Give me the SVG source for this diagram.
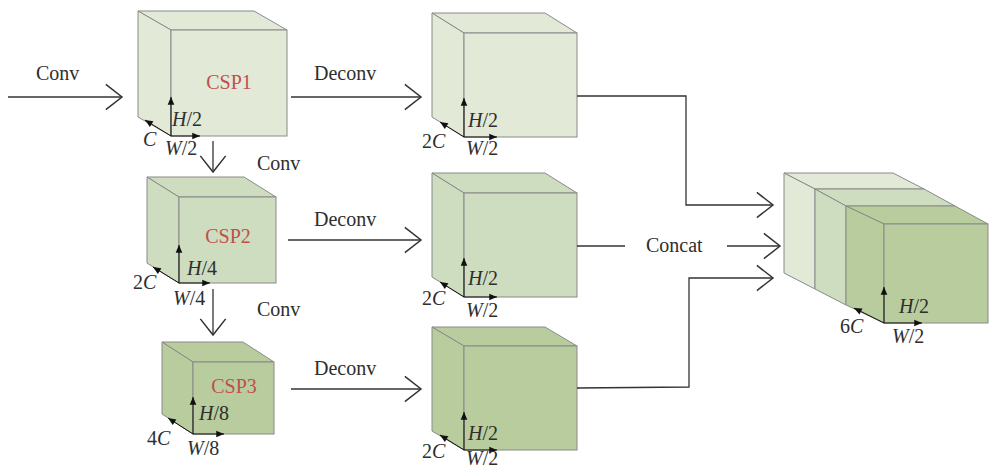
<svg xmlns="http://www.w3.org/2000/svg" width="989" height="469" viewBox="0 0 989 469">
<defs>
<marker id="open" markerUnits="userSpaceOnUse" markerWidth="30" markerHeight="30" refX="0" refY="0" viewBox="-16 -13 18 26" orient="auto" overflow="visible">
<path d="M-14,-11 L0,0 L-14,11" fill="none" stroke="#333" stroke-width="1.3"/>
</marker>
<marker id="tri" markerUnits="userSpaceOnUse" markerWidth="10" markerHeight="10" viewBox="-8 -4 9 8" refX="0" refY="0" orient="auto" overflow="visible">
<path d="M-7,-3 L0,0 L-7,3 Z" fill="#111"/>
</marker>
</defs>
<style>
.l1{fill:#e2e9d7}
.l2{fill:#cedcbf}
.l3{fill:#b8cc9e}
.cube polygon,.cube rect{stroke:#8a8a8a;stroke-width:1}
.t{font-family:"Liberation Serif","Times New Roman",serif;font-size:20px;fill:#2e2e2e}
.red{fill:#c0504d}
.i{font-style:italic}
.conn{fill:none;stroke:#333;stroke-width:1.3}
.ax{stroke:#111;stroke-width:1;fill:none;marker-end:url(#tri)}
</style>
<rect width="989" height="469" fill="#fff"/>

<g id="csp1" class="cube l1">
<polygon points="138,11 254,11 287,30 171,30"/>
<polygon points="138,11 171,30 171,136 138,117"/>
<rect x="171" y="30" width="116" height="106"/>
<text class="t red" x="229" y="89" text-anchor="middle">CSP1</text>
<line class="ax" x1="171" y1="136" x2="171" y2="97"/>
<line class="ax" x1="171" y1="136" x2="200" y2="136"/>
<line class="ax" x1="171" y1="136" x2="145" y2="120"/>
<text class="t" x="172" y="126"><tspan class="i">H</tspan>/2</text>
<text class="t" x="143" y="146"><tspan class="i">C</tspan></text>
<text class="t" x="165" y="155"><tspan class="i">W</tspan>/2</text>
</g>

<g id="csp2" class="cube l2">
<polygon points="147,177 244,177 276,197 179,197"/>
<polygon points="147,177 179,197 179,283 147,263"/>
<rect x="179" y="197" width="97" height="86"/>
<text class="t red" x="228" y="243" text-anchor="middle">CSP2</text>
<line class="ax" x1="179" y1="283" x2="179" y2="245"/>
<line class="ax" x1="179" y1="283" x2="210" y2="283"/>
<line class="ax" x1="179" y1="283" x2="153" y2="267"/>
<text class="t" x="187" y="275"><tspan class="i">H</tspan>/4</text>
<text class="t" x="133" y="289">2<tspan class="i">C</tspan></text>
<text class="t" x="173" y="305"><tspan class="i">W</tspan>/4</text>
</g>

<g id="csp3" class="cube l3">
<polygon points="162,342 243,342 274,362 193,362"/>
<polygon points="162,342 193,362 193,434 162,414"/>
<rect x="193" y="362" width="81" height="72"/>
<text class="t red" x="234" y="393" text-anchor="middle">CSP3</text>
<line class="ax" x1="193" y1="434" x2="193" y2="397"/>
<line class="ax" x1="193" y1="434" x2="224" y2="434"/>
<line class="ax" x1="193" y1="434" x2="168" y2="418"/>
<text class="t" x="199" y="420"><tspan class="i">H</tspan>/8</text>
<text class="t" x="147" y="445">4<tspan class="i">C</tspan></text>
<text class="t" x="187" y="455"><tspan class="i">W</tspan>/8</text>
</g>

<g id="up1" class="cube l1">
<polygon points="432,13 545,13 577,33 464,33"/>
<polygon points="432,13 464,33 464,137 432,117"/>
<rect x="464" y="33" width="113" height="104"/>
<line class="ax" x1="464" y1="137" x2="464" y2="98"/>
<line class="ax" x1="464" y1="137" x2="497" y2="137"/>
<line class="ax" x1="464" y1="137" x2="440" y2="122"/>
<text class="t" x="468" y="127"><tspan class="i">H</tspan>/2</text>
<text class="t" x="422" y="148">2<tspan class="i">C</tspan></text>
<text class="t" x="466" y="155"><tspan class="i">W</tspan>/2</text>
</g>

<g id="up2" class="cube l2">
<polygon points="432,173 545,173 577,193 464,193"/>
<polygon points="432,173 464,193 464,297 432,277"/>
<rect x="464" y="193" width="113" height="104"/>
<line class="ax" x1="464" y1="297" x2="464" y2="258"/>
<line class="ax" x1="464" y1="297" x2="497" y2="297"/>
<line class="ax" x1="464" y1="297" x2="440" y2="282"/>
<text class="t" x="468" y="285"><tspan class="i">H</tspan>/2</text>
<text class="t" x="422" y="305">2<tspan class="i">C</tspan></text>
<text class="t" x="466" y="317"><tspan class="i">W</tspan>/2</text>
</g>

<g id="up3" class="cube l3">
<polygon points="432,327 545,327 577,346 464,346"/>
<polygon points="432,327 464,346 464,450 432,431"/>
<rect x="464" y="346" width="113" height="104"/>
<line class="ax" x1="464" y1="450" x2="464" y2="412"/>
<line class="ax" x1="464" y1="450" x2="497" y2="450"/>
<line class="ax" x1="464" y1="450" x2="440" y2="435"/>
<text class="t" x="468" y="440"><tspan class="i">H</tspan>/2</text>
<text class="t" x="422" y="458">2<tspan class="i">C</tspan></text>
<text class="t" x="466" y="465"><tspan class="i">W</tspan>/2</text>
</g>

<g id="concat-cube" class="cube">
<polygon class="l1" points="784,173 893,173 924,189 815,189"/>
<polygon class="l1" points="784,173 815,189 815,289 784,273"/>
<polygon class="l2" points="815,189 924,189 955,206 846,206"/>
<polygon class="l2" points="815,189 846,206 846,305 815,289"/>
<polygon class="l3" points="846,206 955,206 988,224 884,224"/>
<polygon class="l3" points="846,206 884,224 884,323 846,305"/>
<rect class="l3" x="884" y="224" width="104" height="99"/>
<line class="ax" x1="884" y1="323" x2="884" y2="287"/>
<line class="ax" x1="884" y1="323" x2="922" y2="323"/>
<line class="ax" x1="884" y1="323" x2="854" y2="308"/>
<text class="t" x="899" y="313"><tspan class="i">H</tspan>/2</text>
<text class="t" x="840" y="333">6<tspan class="i">C</tspan></text>
<text class="t" x="892" y="343"><tspan class="i">W</tspan>/2</text>
</g>

<g id="connectors">
<path class="conn" d="M8,97 H122" marker-end="url(#open)"/>
<path class="conn" d="M291,97 H421" marker-end="url(#open)"/>
<path class="conn" d="M213,141 V172" marker-end="url(#open)"/>
<path class="conn" d="M288,240 H421" marker-end="url(#open)"/>
<path class="conn" d="M213,289 V335" marker-end="url(#open)"/>
<path class="conn" d="M291,389 H421" marker-end="url(#open)"/>
<path class="conn" d="M577,96 H686 V205 H773" marker-end="url(#open)"/>
<path class="conn" d="M577,246 H625"/>
<path class="conn" d="M727,246 H780" marker-end="url(#open)"/>
<path class="conn" d="M577,388 L689,387 V278 H773" marker-end="url(#open)"/>
<text class="t" x="36" y="80">Conv</text>
<text class="t" x="314" y="80">Deconv</text>
<text class="t" x="257" y="170">Conv</text>
<text class="t" x="314" y="226">Deconv</text>
<text class="t" x="257" y="316">Conv</text>
<text class="t" x="314" y="375">Deconv</text>
<text class="t" x="646" y="252">Concat</text>
</g>
</svg>
